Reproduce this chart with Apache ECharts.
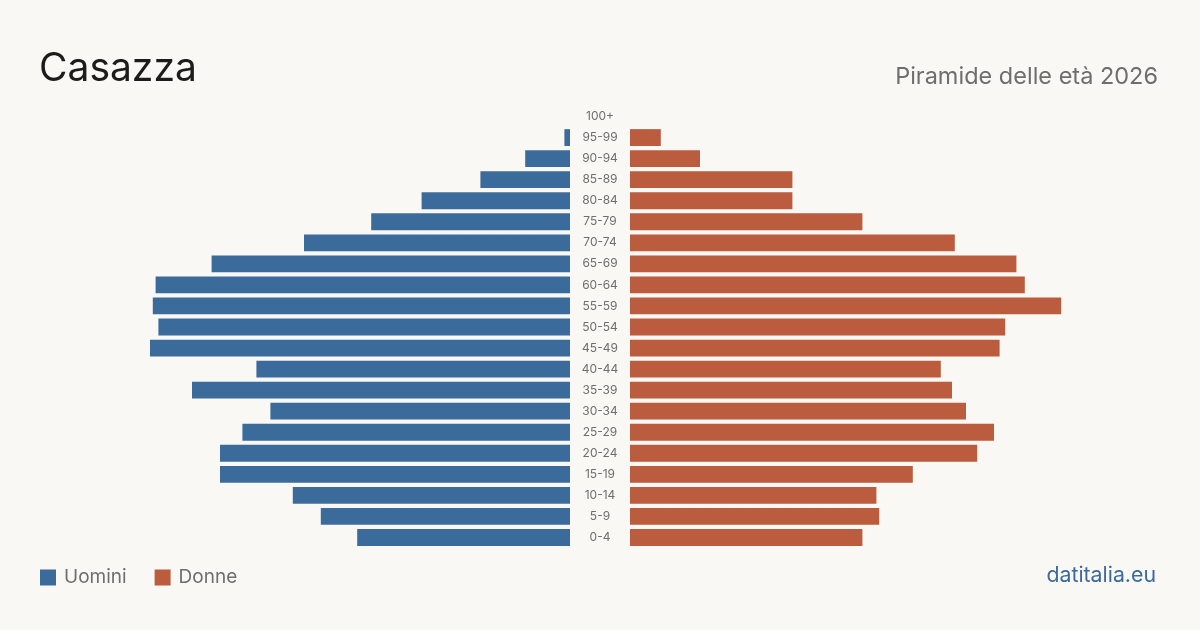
<!DOCTYPE html>
<html>
<head>
<meta charset="utf-8">
<script src="https://cdn.jsdelivr.net/npm/echarts@6/dist/echarts.min.js"></script>
<style>
  html, body { margin: 0; padding: 0; background: #f9f8f4; }
  #chart { width: 1200px; height: 630px; }
</style>
</head>
<body>
<div id="chart"></div>
<script>
// classi d'età, dal basso verso l'alto
const ageGroups = ['0-4','5-9','10-14','15-19','20-24','25-29','30-34','35-39','40-44','45-49',
                   '50-54','55-59','60-64','65-69','70-74','75-79','80-84','85-89','90-94','95-99','100+'];
const uomini = [76, 89, 99, 125, 125, 117, 107, 135, 112, 150, 147, 149, 148, 128, 95, 71, 53, 32, 16, 2, 0];
const donne  = [83, 89, 88, 101, 124, 130, 120, 115, 111, 132, 134, 154, 141, 138, 116, 83, 58, 58, 25, 11, 0];
const axisMax = 160;

const blue = '#3b6b9b', red = '#ba5c3d';
const font = 'Inter, "Noto Sans", sans-serif';

const chart = echarts.init(document.getElementById('chart'));
const hiddenAxis = {
    axisLine: { show: false }, axisTick: { show: false },
    splitLine: { show: false }, axisLabel: { show: false }
};
chart.setOption({
    backgroundColor: '#f9f8f4',
    animation: false,
    title: [
        { text: 'Casazza', left: 39, top: 50, padding: 0,
          textStyle: { fontFamily: font, fontSize: 39, fontWeight: 'normal', color: '#1c1c1c' } },
        { text: 'Piramide delle età 2026', right: 42, top: 65, padding: 0,
          textStyle: { fontFamily: font, fontSize: 23.5, fontWeight: 'normal', color: '#6e6e6e' } },
        { text: 'datitalia.eu', right: 44, top: 565, padding: 0,
          textStyle: { fontFamily: font, fontSize: 21.3, fontWeight: 'normal', color: blue } }
    ],
    legend: {
        left: 40, top: 568, padding: 0, icon: 'rect', itemWidth: 16, itemHeight: 16, itemGap: 28,
        textStyle: { fontFamily: font, fontSize: 19, color: '#6e6e6e', padding: [0, 0, 0, 3] },
        data: ['Uomini', 'Donne']
    },
    grid: [
        { left: 122, width: 448, top: 106, height: 442 },
        { left: 630, width: 448, top: 106, height: 442 }
    ],
    xAxis: [
        Object.assign({ type: 'value', gridIndex: 0, min: 0, max: axisMax, inverse: true }, hiddenAxis),
        Object.assign({ type: 'value', gridIndex: 1, min: 0, max: axisMax }, hiddenAxis)
    ],
    yAxis: [
        Object.assign({ type: 'category', gridIndex: 0, data: ageGroups }, hiddenAxis),
        {
            type: 'category', gridIndex: 1, data: ageGroups,
            axisLine: { show: false }, axisTick: { show: false }, splitLine: { show: false },
            axisLabel: { show: true, align: 'center', margin: 30, fontFamily: font,
                         fontSize: 12, color: '#6e6e6e' }
        }
    ],
    series: [
        { name: 'Uomini', type: 'bar', xAxisIndex: 0, yAxisIndex: 0, data: uomini,
          barCategoryGap: '20%', itemStyle: { color: blue } },
        { name: 'Donne', type: 'bar', xAxisIndex: 1, yAxisIndex: 1, data: donne,
          barCategoryGap: '20%', itemStyle: { color: red } }
    ]
});
</script>
</body>
</html>
